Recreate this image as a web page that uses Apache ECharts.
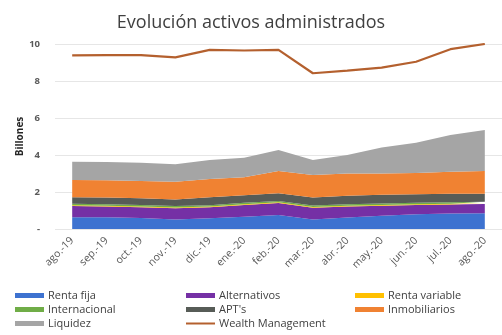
<!DOCTYPE html>
<html>
<head>
<meta charset="utf-8">
<script src="https://cdn.jsdelivr.net/npm/echarts@6/dist/echarts.min.js"></script>
<style>html,body{margin:0;padding:0;background:#fff;}#c{width:502px;height:335px;}</style>
</head>
<body>
<div id="c"></div>
<script>
const categories = ['ago.-19','sep.-19','oct.-19','nov.-19','dic.-19','ene.-20','feb.-20','mar.-20','abr.-20','may.-20','jun.-20','jul.-20','ago.-20'];
const rentaFija     = [0.63,0.64,0.60,0.52,0.58,0.66,0.76,0.52,0.62,0.72,0.80,0.84,0.85];
const alternativos  = [0.61,0.58,0.58,0.60,0.59,0.64,0.64,0.63,0.60,0.54,0.50,0.48,0.50];
const rentaVariable = [0.04,0.04,0.04,0.04,0.04,0.04,0.04,0.04,0.04,0.04,0.04,0.04,0.04];
const internacional = [0.08,0.08,0.08,0.08,0.08,0.08,0.08,0.08,0.08,0.08,0.08,0.08,0.08];
const apts          = [0.35,0.36,0.36,0.36,0.43,0.40,0.41,0.43,0.46,0.47,0.46,0.46,0.43];
const inmobiliarios = [0.94,0.94,0.94,0.96,0.98,0.98,1.21,1.22,1.20,1.15,1.15,1.20,1.24];
const liquidez      = [0.99,0.98,0.98,0.94,1.03,1.05,1.13,0.81,1.00,1.40,1.63,1.98,2.21];
const wealthMgmt    = [9.39,9.40,9.40,9.28,9.68,9.65,9.68,8.42,8.56,8.72,9.04,9.72,10.0];
const yTicks = [0,2,4,6,8,10];

const FONT = '"Open Sans", "Liberation Sans", sans-serif';
const areaDefs = [
  ['Renta fija', rentaFija, '#3d72d0'],
  ['Alternativos', alternativos, '#7530a5'],
  ['Renta variable', rentaVariable, '#FFC000'],
  ['Internacional', internacional, '#70AD47'],
  ["APT's", apts, '#575c57'],
  ['Inmobiliarios', inmobiliarios, '#f08232'],
  ['Liquidez', liquidez, '#A5A5A5']
];
const series = areaDefs.map(d => ({
  name: d[0], type: 'line', stack: 'total', data: d[1],
  showSymbol: false, symbol: 'none', smooth: false,
  lineStyle: { width: 0 }, itemStyle: { color: d[2] },
  areaStyle: { color: d[2], opacity: 1 }
}));
series.push({
  name: 'Wealth Management', type: 'line', data: wealthMgmt,
  showSymbol: false, symbol: 'none',
  lineStyle: { width: 2.2, color: '#b4602e' }, itemStyle: { color: '#b4602e' }
});

const legendPos = [
  ['Renta fija', 15, 290], ['Alternativos', 186, 290], ['Renta variable', 355, 290],
  ['Internacional', 15, 304], ["APT's", 186, 304], ['Inmobiliarios', 355, 304],
  ['Liquidez', 15, 318], ['Wealth Management', 186, 318]
];
const legends = legendPos.map(p => ({
  data: [p[0]], left: p[1], top: p[2], icon: 'rect',
  itemWidth: 29, itemHeight: p[0] === 'Wealth Management' ? 2 : 5, itemGap: 4,
  textStyle: { fontSize: 11, color: '#404040', fontFamily: FONT, padding: [0,0,0,-1] },
  padding: 0, selectedMode: false
}));

const chart = echarts.init(document.getElementById('c'), null, { renderer: 'canvas' });
chart.setOption({
  animation: false,
  backgroundColor: '#ffffff',
  title: {
    text: 'Evolución activos administrados', left: 'center', top: 9,
    textStyle: { fontSize: 18, fontWeight: 'normal', color: '#404040', fontFamily: FONT }
  },
  legend: legends,
  grid: { left: 55, right: -18, top: 44, height: 185 },
  xAxis: {
    type: 'category', data: categories, boundaryGap: true,
    axisLine: { show: false }, axisTick: { show: false },
    axisLabel: { rotate: 45, fontSize: 10.5, color: '#595959', fontFamily: FONT, margin: 10, interval: 0 }
  },
  yAxis: {
    type: 'value', min: 0, max: 10, interval: 2,
    name: 'Billones', nameLocation: 'middle', nameGap: 30, nameRotate: 90, nameMoveOverlap: false,
    nameTextStyle: { fontSize: 10, fontWeight: 'bold', color: '#262626', fontFamily: FONT },
    axisLine: { show: false }, axisTick: { show: false },
    axisLabel: { fontSize: 9.5, fontWeight: 'bold', color: '#595959', fontFamily: FONT, margin: 15,
      formatter: v => (v === 0 ? '-' : String(v)) },
    splitLine: { lineStyle: { color: '#e6e6e6', width: 1 } }
  },
  series: series
});
</script>
</body>
</html>
